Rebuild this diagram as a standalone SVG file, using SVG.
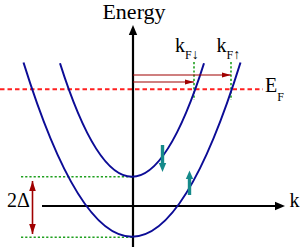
<svg xmlns="http://www.w3.org/2000/svg" width="305" height="247" viewBox="0 0 305 247">
<style>
  .t { font-family: "Liberation Serif", "Times New Roman", "DejaVu Serif", serif; fill: #000; }
  .band { fill: none; stroke: #0c0c96; stroke-width: 2; }
  .green { stroke: #20a020; stroke-width: 1.6; stroke-dasharray: 2.2 2; fill: none; }
  .axis { stroke: #000; stroke-width: 2.2; fill: none; }
  .dred { stroke: #a00000; fill: none; }
  .teal { stroke: #158a8a; stroke-width: 3.4; fill: none; }
</style>
<defs>
  <marker id="ah" markerWidth="9" markerHeight="6" refX="0" refY="0" viewBox="-9 -3 9 6" orient="auto" markerUnits="userSpaceOnUse">
    <path d="M-9,-2.6 L0,0 L-9,2.6 Z" fill="#a00000"/>
  </marker>
  <marker id="ah2" markerWidth="10" markerHeight="8" viewBox="-10 -4 10 8" refX="0" refY="0" orient="auto-start-reverse" markerUnits="userSpaceOnUse">
    <path d="M-10,-3.3 L0,0 L-10,3.3 Z" fill="#a00000"/>
  </marker>
</defs>
<g id="fermi-level">
  <line x1="0" y1="89.3" x2="263" y2="89.3" stroke="#ff2020" stroke-width="2" stroke-dasharray="4.5 3"/>
  <text class="t" x="265" y="92.3" font-size="20">E<tspan font-size="12" dy="8.5">F</tspan></text>
</g>
<g id="guides">
  <line class="green" x1="21" y1="176.7" x2="132" y2="176.7"/>
  <line class="green" x1="21" y1="237.3" x2="132" y2="237.3"/>
  <line class="green" x1="194" y1="62" x2="194" y2="100"/>
  <line class="green" x1="231" y1="62" x2="231" y2="100"/>
</g>
<g id="axes">
  <line class="axis" x1="133" y1="33" x2="133" y2="247"/>
  <path d="M133,25 L128.8,35 L137.2,35 Z" fill="#000"/>
  <line class="axis" x1="42" y1="206" x2="276" y2="206"/>
  <path d="M285,206 L275,201.8 L275,210.2 Z" fill="#000"/>
  <text class="t" x="134" y="18.5" font-size="22" text-anchor="middle">Energy</text>
  <text class="t" x="289.5" y="207.3" font-size="20">k</text>
</g>
<g id="band-up">
  <path class="band" d="M23.5,62.5 Q132,410.9 240.5,62.5"/>
</g>
<g id="band-down">
  <path class="band" d="M60,63.2 Q132,290.2 204,63.2"/>
</g>
<g id="connectors">
  <line class="dred" x1="133" y1="75" x2="231" y2="75" stroke-width="1.1" marker-end="url(#ah)"/>
  <line class="dred" x1="133" y1="82" x2="194" y2="82" stroke-width="1.1" marker-end="url(#ah)"/>
  <line class="dred" x1="32.5" y1="181" x2="32.5" y2="234" stroke-width="1.6" marker-start="url(#ah2)" marker-end="url(#ah2)"/>
  <line class="teal" x1="162.5" y1="145" x2="162.5" y2="163"/>
  <path d="M158.8,163 L166.2,163 L162.5,172 Z" fill="#158a8a"/>
  <line class="teal" x1="189.5" y1="195" x2="189.5" y2="179"/>
  <path d="M185.8,179 L193.2,179 L189.5,170.5 Z" fill="#158a8a"/>
</g>
<g id="labels">
  <text class="t" x="175" y="52.3" font-size="20">k<tspan font-size="12" dy="6.5">F</tspan><tspan font-size="14">↓</tspan></text>
  <text class="t" x="216.5" y="52.3" font-size="20">k<tspan font-size="12" dy="6.5">F</tspan><tspan font-size="14">↑</tspan></text>
  <text class="t" x="7" y="207.3" font-size="20">2Δ</text>
</g>
</svg>
